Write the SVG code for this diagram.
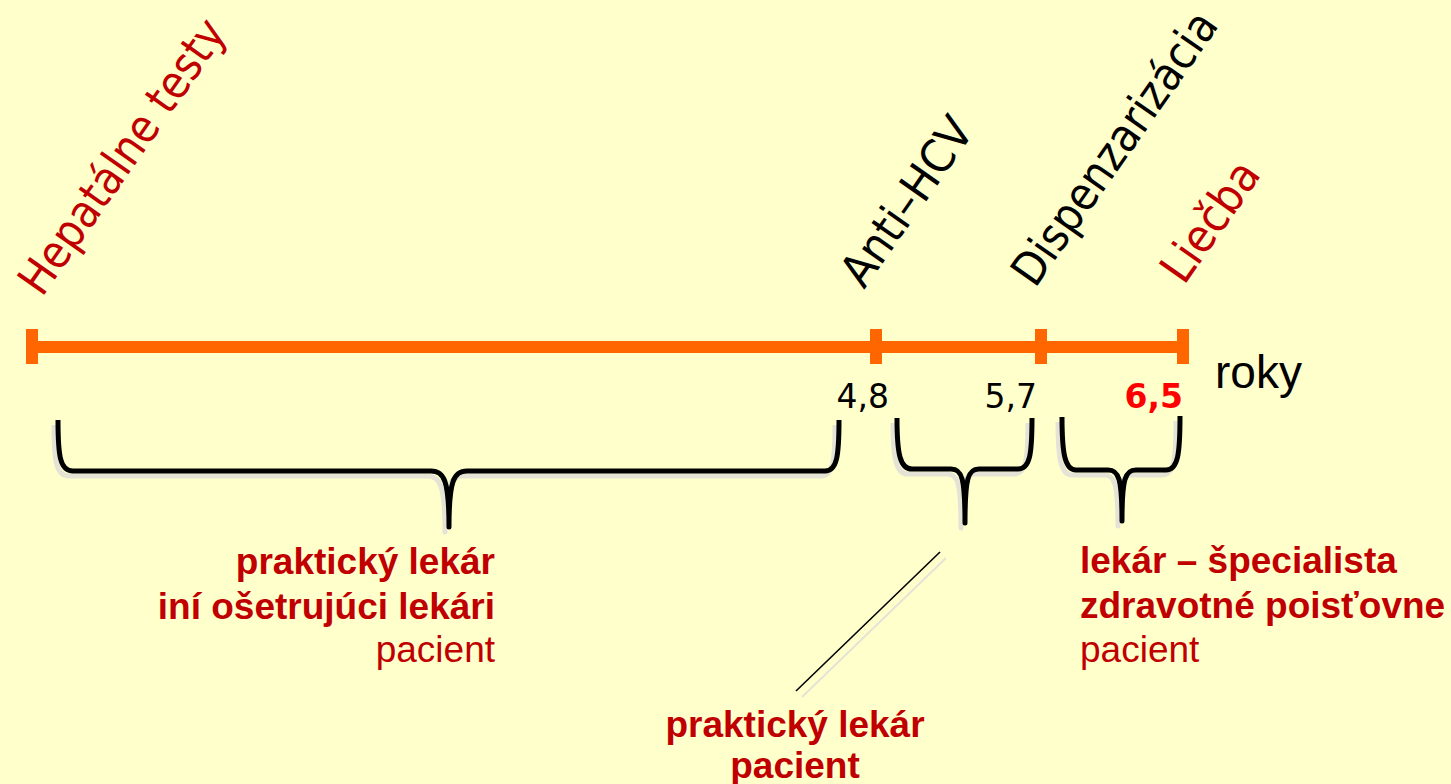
<svg xmlns="http://www.w3.org/2000/svg" width="1451" height="784" viewBox="0 0 1451 784">
  <style>
    .rot { font-family: "DejaVu Sans", Verdana, sans-serif; font-size: 46px; }
    .dark { fill: #c00000; }
    .black { fill: #000000; }
    .num { font-family: "DejaVu Sans", Verdana, sans-serif; font-size: 33px; }
    .lbl { font-family: "Liberation Sans", Arial, sans-serif; font-size: 37px; fill: #c00000; }
    .b { font-weight: bold; }
    .axis { stroke: #ff6600; stroke-width: 12; fill: none; }
    .tick { fill: #ff6600; }
    .brace { fill: none; stroke: #000000; stroke-width: 5; stroke-linejoin: round; stroke-linecap: butt; }
    .brace-sh { fill: none; stroke: #e4e3d6; stroke-width: 5; stroke-linejoin: round; }
  </style>
  <rect x="0" y="0" width="1451" height="784" fill="#ffffcc"/>

  <!-- time axis -->
  <g id="timeline">
    <line class="axis" x1="32" y1="347" x2="1184" y2="347"/>
    <rect class="tick" x="26" y="329" width="12" height="35"/>
    <rect class="tick" x="870" y="329" width="12" height="35"/>
    <rect class="tick" x="1035" y="329" width="12" height="35"/>
    <rect class="tick" x="1177" y="329" width="12" height="35"/>
    <text x="1215" y="388" font-family="Liberation Sans, Arial, sans-serif" font-size="46">roky</text>
  </g>

  <!-- milestone labels -->
  <g id="m-hepatalne">
    <text class="rot dark" transform="translate(42,298) rotate(-55)" textLength="324" lengthAdjust="spacingAndGlyphs">Hepatálne testy</text>
  </g>
  <g id="m-antihcv">
    <text class="rot black" transform="translate(864,290) rotate(-55)" textLength="194" lengthAdjust="spacingAndGlyphs">Anti–HCV</text>
    <text class="num" x="889" y="408" text-anchor="end">4,8</text>
  </g>
  <g id="m-dispenzarizacia">
    <text class="rot black" transform="translate(1035,289) rotate(-55)" textLength="322" lengthAdjust="spacingAndGlyphs">Dispenzarizácia</text>
    <text class="num" x="1037" y="408" text-anchor="end">5,7</text>
  </g>
  <g id="m-liecba">
    <text class="rot dark" transform="translate(1184,286) rotate(-55)" textLength="136" lengthAdjust="spacingAndGlyphs">Liečba</text>
    <text class="num b" x="1183" y="408" text-anchor="end" fill="#ff0000">6,5</text>
  </g>

  <!-- braces and leader line -->
  <g id="connectors">
    <g transform="translate(-4,5)">
      <path class="brace-sh" d="M58,420 C58,456 60,471 73,471 L431,471 C444,471 449,480 449,527 C449,480 454,471 467,471 L825,471 C837,471 839,456 839,420"/>
      <path class="brace-sh" d="M897,418 C897,454 900,469 912,469 L951,469 C962,469 965,478 965,523 C965,478 968,469 979,469 L1018,469 C1030,469 1032,454 1032,418"/>
      <path class="brace-sh" d="M1062,417 C1062,454 1065,470 1076,470 L1108,470 C1119,470 1122,479 1122,521 C1122,479 1125,470 1136,470 L1166,470 C1178,470 1180,454 1180,416"/>
    </g>
    <path class="brace" d="M58,420 C58,456 60,471 73,471 L431,471 C444,471 449,480 449,527 C449,480 454,471 467,471 L825,471 C837,471 839,456 839,420"/>
    <path class="brace" d="M897,418 C897,454 900,469 912,469 L951,469 C962,469 965,478 965,523 C965,478 968,469 979,469 L1018,469 C1030,469 1032,454 1032,418"/>
    <path class="brace" d="M1062,417 C1062,454 1065,470 1076,470 L1108,470 C1119,470 1122,479 1122,521 C1122,479 1125,470 1136,470 L1166,470 C1178,470 1180,454 1180,416"/>
    <line x1="946" y1="558" x2="802" y2="697" stroke="#e4e3d6" stroke-width="2"/>
    <line x1="940" y1="552" x2="796" y2="691" stroke="#000000" stroke-width="1.6"/>
  </g>

  <!-- actors per period -->
  <g id="actors-1">
    <text class="lbl b" x="495" y="574" text-anchor="end">praktický lekár</text>
    <text class="lbl b" x="495" y="619" text-anchor="end">iní ošetrujúci lekári</text>
    <text class="lbl" x="495" y="662" text-anchor="end">pacient</text>
  </g>
  <g id="actors-2">
    <text class="lbl b" x="795" y="737" text-anchor="middle">praktický lekár</text>
    <text class="lbl b" x="795" y="778" text-anchor="middle">pacient</text>
  </g>
  <g id="actors-3">
    <text class="lbl b" x="1080" y="573">lekár – špecialista</text>
    <text class="lbl b" x="1080" y="618">zdravotné poisťovne</text>
    <text class="lbl" x="1080" y="662">pacient</text>
  </g>
</svg>
